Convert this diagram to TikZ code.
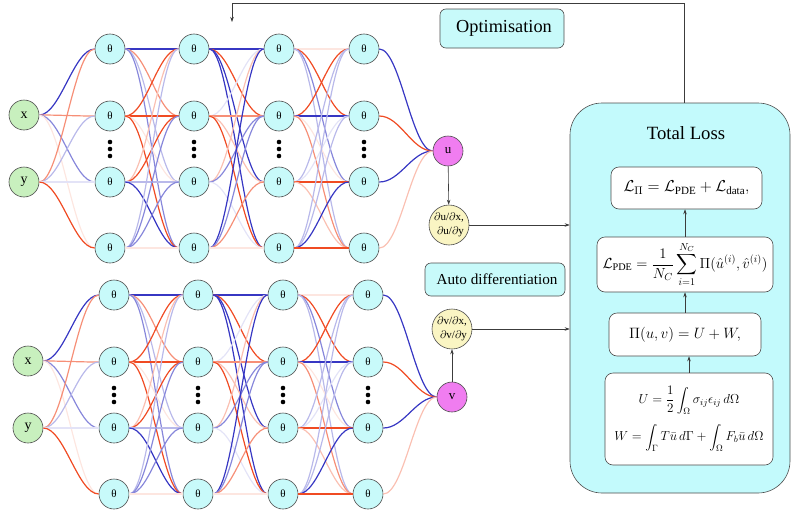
\RequirePackage{fix-cm}
\documentclass[tikz,border=0pt]{standalone}
\usepackage{amsmath}
\usepackage{fontspec}
\setmainfont{Liberation Serif}
\usetikzlibrary{arrows.meta}
\definecolor{nblue}{RGB}{55,55,195}
\definecolor{nred}{RGB}{240,75,35}
\definecolor{thcyan}{RGB}{200,250,250}
\definecolor{ingreen}{RGB}{200,240,190}
\definecolor{outmag}{RGB}{240,125,240}
\definecolor{dyel}{RGB}{250,245,195}
\definecolor{losscyan}{RGB}{195,250,252}
\definecolor{arrgray}{RGB}{60,60,60}
\tikzset{
  sb/.style={draw=nblue, line width=1.2pt},
  mb/.style={draw=nblue!60, line width=1.2pt},
  lb/.style={draw=nblue!35, line width=1.2pt},
  fb/.style={draw=nblue!14, line width=1.2pt},
  sr/.style={draw=nred, line width=1.2pt},
  mr/.style={draw=nred!62, line width=1.2pt},
  lr/.style={draw=nred!35, line width=1.2pt},
  fr/.style={draw=nred!14, line width=1.2pt},
  neur/.style={circle, draw=black!70, line width=0.6pt, minimum size=30pt, inner sep=0pt},
  th/.style={neur, fill=thcyan, font=\fontsize{11}{11}\selectfont},
  inp/.style={neur, fill=ingreen, font=\fontsize{14}{14}\selectfont},
  outn/.style={neur, fill=outmag, font=\fontsize{13}{13}\selectfont},
  der/.style={circle, draw=black!70, line width=0.6pt, fill=dyel, minimum size=40pt, inner sep=0pt, align=center, font=\fontsize{11}{13.5}\selectfont},
  tagbox/.style={draw=black!70, line width=0.6pt, fill=thcyan, rounded corners=6pt, inner sep=0pt},
  eqbox/.style={draw=black!70, line width=0.6pt, fill=white, rounded corners=8pt, inner sep=0pt, align=center},
  arr/.style={draw=arrgray, line width=0.6pt, -{Stealth[length=5pt,width=3.5pt]}},
}
\newcommand{\ed}[3]{\draw[#3] (#1) to[out=0,in=180,distance=21pt] (#2);}
\newcommand{\drawnet}[3]{%
  \node[inp] (#1x) at (24,115) {x};
  \node[inp] (#1y) at (24,182) {y};
  \foreach \l/\xx in {1/110,2/194,3/279,4/364}{
    \foreach \r/\yy in {a/49,b/116,c/182,d/248}{
      \node[th] (#1L\l\r) at (\xx,\yy) {θ};
    }
    \foreach \yy in {142,149,156}{\fill (\xx,\yy) circle (2.3pt);}
  }
  \node[outn] (#3) at (448,151) {#2};
  % input layer
  \ed{#1x}{#1L1a}{sb}\ed{#1x}{#1L1b}{mr}\ed{#1x}{#1L1c}{mb}\ed{#1x}{#1L1d}{fr}
  \ed{#1y}{#1L1a}{mr}\ed{#1y}{#1L1b}{lb}\ed{#1y}{#1L1c}{fb}\ed{#1y}{#1L1d}{sr}
  % layer 1 -> 2
  \ed{#1L1a}{#1L2a}{sb}\ed{#1L1a}{#1L2b}{mr}\ed{#1L1a}{#1L2c}{lb}\ed{#1L1a}{#1L2d}{mb}
  \ed{#1L1b}{#1L2a}{sr}\ed{#1L1b}{#1L2b}{sr}\ed{#1L1b}{#1L2c}{fr}\ed{#1L1b}{#1L2d}{sr}
  \ed{#1L1c}{#1L2a}{lr}\ed{#1L1c}{#1L2b}{sr}\ed{#1L1c}{#1L2c}{lb}\ed{#1L1c}{#1L2d}{sb}
  \ed{#1L1d}{#1L2a}{lb}\ed{#1L1d}{#1L2b}{mb}\ed{#1L1d}{#1L2c}{mb}\ed{#1L1d}{#1L2d}{fr}
  % layer 2 -> 3
  \ed{#1L2a}{#1L3a}{sb}\ed{#1L2a}{#1L3b}{sr}\ed{#1L2a}{#1L3c}{sb}\ed{#1L2a}{#1L3d}{sb}
  \ed{#1L2b}{#1L3a}{fb}\ed{#1L2b}{#1L3b}{mr}\ed{#1L2b}{#1L3c}{lr}\ed{#1L2b}{#1L3d}{sr}
  \ed{#1L2c}{#1L3a}{lr}\ed{#1L2c}{#1L3b}{mb}\ed{#1L2c}{#1L3d}{fb}
  \ed{#1L2d}{#1L3a}{sb}\ed{#1L2d}{#1L3b}{mb}\ed{#1L2d}{#1L3c}{mr}\ed{#1L2d}{#1L3d}{fr}
  % layer 3 -> 4
  \ed{#1L3a}{#1L4a}{fr}\ed{#1L3a}{#1L4b}{sr}\ed{#1L3a}{#1L4c}{mb}\ed{#1L3a}{#1L4d}{lb}
  \ed{#1L3b}{#1L4a}{sr}\ed{#1L3b}{#1L4b}{sb}\ed{#1L3b}{#1L4c}{fr}\ed{#1L3b}{#1L4d}{mr}
  \ed{#1L3c}{#1L4a}{lb}\ed{#1L3c}{#1L4b}{fb}\ed{#1L3c}{#1L4c}{sr}\ed{#1L3c}{#1L4d}{lr}
  \ed{#1L3d}{#1L4a}{lb}\ed{#1L3d}{#1L4b}{lb}\ed{#1L3d}{#1L4c}{sb}\ed{#1L3d}{#1L4d}{sr}
  % output
  \ed{#1L4a}{#3}{sb}\ed{#1L4b}{#3}{sr}\ed{#1L4c}{#3}{sb}\ed{#1L4d}{#3}{lr}
}
\begin{document}
\begin{tikzpicture}[x=1pt,y=-1pt]
\useasboundingbox (0,0) rectangle (792,514);
% networks
\drawnet{t}{u}{u}
\begin{scope}[shift={(4,246)}]
\drawnet{b}{v}{v}
\end{scope}
% derivative nodes
\node[der] (du) at (449,225) {$\partial$u/$\partial$x,\\\hspace*{3pt}$\partial$u/$\partial$y};
\node[der] (dv) at (452,329) {$\partial$v/$\partial$x,\\\hspace*{3pt}$\partial$v/$\partial$y};
% tags
\node[tagbox, minimum width=124pt, minimum height=39pt, font=\fontsize{18.3}{21}\selectfont] (opt) at (502,28.5) {\hspace*{4pt}Optimisation};
\node[tagbox, minimum width=140pt, minimum height=33pt, font=\fontsize{15.2}{17}\selectfont] (ad) at (495,279.5) {\hspace*{4pt}Auto differentiation};
% total loss
\node[draw=black!70, line width=0.6pt, fill=losscyan, rounded corners=32pt, minimum width=220pt, minimum height=390pt, inner sep=0pt] (loss) at (680,298) {};
\node[font=\fontsize{18.7}{21}\selectfont] (title) at (686,133) {Total Loss};
\node[eqbox, minimum width=151pt, minimum height=42pt, font=\fontsize{15.8}{17}\selectfont] (lpi) at (686.5,188)
  {$\mathcal{L}_{\Pi} = \mathcal{L}_{\mathrm{PDE}} + \mathcal{L}_{\mathrm{data}},$};
\node[eqbox, minimum width=176pt, minimum height=55pt, font=\fontsize{14.6}{16}\selectfont] (pde) at (685,264.5)
  {$\displaystyle \mathcal{L}_{\mathrm{PDE}} = \frac{1}{N_C}\sum_{i=1}^{N_C}\Pi(\hat{u}^{(i)},\hat{v}^{(i)})$};
\node[eqbox, minimum width=152pt, minimum height=43pt, font=\fontsize{15}{17}\selectfont] (pi) at (685,334.5)
  {$\Pi(u,v) = U + W,$};
\node[eqbox, minimum width=168pt, minimum height=92pt, font=\fontsize{13}{15}\selectfont] (uw) at (689,419)
  {$\displaystyle U = \frac{1}{2}\int_{\Omega}\sigma_{ij}\epsilon_{ij}\,d\Omega$\\[9pt]
   $\displaystyle W = \int_{\Gamma}T\bar{u}\,d\Gamma + \int_{\Omega}F_b\bar{u}\,d\Omega$};
% arrows
\draw[arr] (u) -- (du);
\draw[arr] (v) -- (dv);
\draw[arr] (du) -- (du -| loss.west);
\draw[arr] (dv) -- (dv -| loss.west);
\draw[arr] (uw.north) -- (uw.north |- pi.south);
\draw[arr] (pi.north) -- (pi.north |- pde.south);
\draw[arr] (pde.north) -- (pde.north |- lpi.south);
\coordinate (fbend) at (232,22);
\draw[arr] ([xshift=4pt]loss.north) -- ++(0,-99) -| (fbend);
\end{tikzpicture}
\end{document}
